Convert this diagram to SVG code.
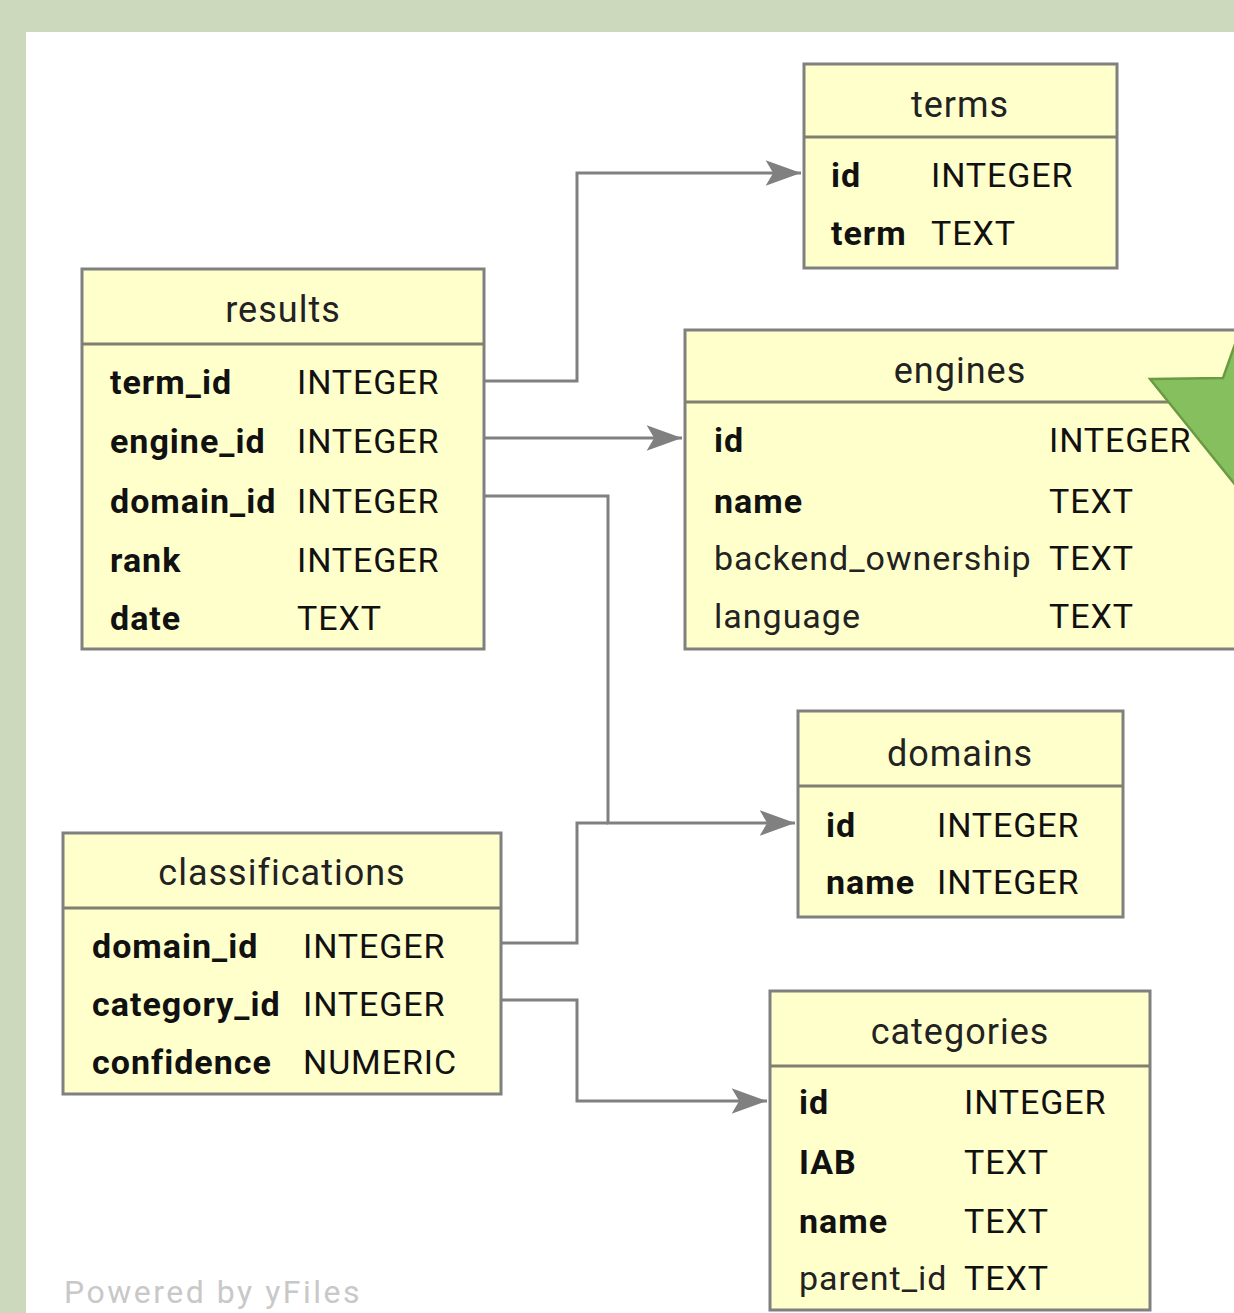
<svg xmlns="http://www.w3.org/2000/svg" width="1234" height="1313" viewBox="0 0 1234 1313">
<defs>
<marker id="arr" markerUnits="userSpaceOnUse" markerWidth="40" markerHeight="30" viewBox="-34 -14 36 28" refX="0" refY="0" orient="auto">
<path d="M0,0 L-33,-12 L-26,0 L-33,12 Z" fill="#808080"/>
</marker>
</defs>
<style>
.box{fill:#ffffcc;stroke:#808080;stroke-width:3}
.sep{stroke:#808070;stroke-width:3}
.title{font-family:Roboto,"Liberation Sans",sans-serif;font-size:36px;letter-spacing:1px;fill:#222;text-anchor:middle}
.k{font-family:Roboto,"Liberation Sans",sans-serif;font-size:34px;letter-spacing:1px;font-weight:bold;fill:#111}
.kn{font-family:Roboto,"Liberation Sans",sans-serif;font-size:34px;letter-spacing:1px;fill:#222}
.t{font-family:Roboto,"Liberation Sans",sans-serif;font-size:34px;letter-spacing:0.9px;fill:#111}
.edge{fill:none;stroke:#808080;stroke-width:3}
</style>
<rect x="0" y="0" width="1234" height="1313" fill="#cdd9bd"/>
<rect x="26" y="32" width="1208" height="1281" fill="#ffffff"/>

<g id="connectors">
<polyline class="edge" points="484,381 577,381 577,173 801,173" marker-end="url(#arr)"/>
<polyline class="edge" points="484,438 682,438" marker-end="url(#arr)"/>
<polyline class="edge" points="484,496 608,496 608,823 795,823" marker-end="url(#arr)"/>
<polyline class="edge" points="501,943 577,943 577,823 608,823"/>
<polyline class="edge" points="501,1000 577,1000 577,1101 767,1101" marker-end="url(#arr)"/>
</g>

<g id="terms">
<rect class="box" x="804" y="64" width="313" height="204"/>
<line class="sep" x1="804" y1="137" x2="1117" y2="137"/>
<text class="title" x="960" y="117">terms</text>
<text class="k" x="831" y="187">id</text><text class="t" x="931" y="187">INTEGER</text>
<text class="k" x="831" y="245">term</text><text class="t" x="931" y="245">TEXT</text>
</g>

<g id="results">
<rect class="box" x="82" y="269" width="402" height="380"/>
<line class="sep" x1="82" y1="344" x2="484" y2="344"/>
<text class="title" x="283" y="322">results</text>
<text class="k" x="110" y="394">term_id</text><text class="t" x="297" y="394">INTEGER</text>
<text class="k" x="110" y="453">engine_id</text><text class="t" x="297" y="453">INTEGER</text>
<text class="k" x="110" y="513">domain_id</text><text class="t" x="297" y="513">INTEGER</text>
<text class="k" x="110" y="572">rank</text><text class="t" x="297" y="572">INTEGER</text>
<text class="k" x="110" y="630">date</text><text class="t" x="297" y="630">TEXT</text>
</g>

<g id="engines">
<rect class="box" x="685" y="330" width="560" height="319"/>
<line class="sep" x1="685" y1="402" x2="1234" y2="402"/>
<text class="title" x="960" y="383">engines</text>
<text class="k" x="714" y="452">id</text><text class="t" x="1049" y="452">INTEGER</text>
<text class="k" x="714" y="513">name</text><text class="t" x="1049" y="513">TEXT</text>
<text class="kn" x="714" y="570">backend_ownership</text><text class="t" x="1049" y="570">TEXT</text>
<text class="kn" x="714" y="628">language</text><text class="t" x="1049" y="628">TEXT</text>
</g>

<g id="star">
<polygon points="1150,379 1223,378 1245,316 1245,497" fill="#86bf5e" stroke="#6a9b42" stroke-width="2.5" stroke-linejoin="miter"/>
</g>

<g id="domains">
<rect class="box" x="798" y="711" width="325" height="206"/>
<line class="sep" x1="798" y1="786" x2="1123" y2="786"/>
<text class="title" x="960" y="766">domains</text>
<text class="k" x="826" y="837">id</text><text class="t" x="937" y="837">INTEGER</text>
<text class="k" x="826" y="894">name</text><text class="t" x="937" y="894">INTEGER</text>
</g>

<g id="classifications">
<rect class="box" x="63" y="833" width="438" height="261"/>
<line class="sep" x1="63" y1="908" x2="501" y2="908"/>
<text class="title" x="282" y="885">classifications</text>
<text class="k" x="92" y="958">domain_id</text><text class="t" x="303" y="958">INTEGER</text>
<text class="k" x="92" y="1016">category_id</text><text class="t" x="303" y="1016">INTEGER</text>
<text class="k" x="92" y="1074">confidence</text><text class="t" x="303" y="1074">NUMERIC</text>
</g>

<g id="categories">
<rect class="box" x="770" y="991" width="380" height="319"/>
<line class="sep" x1="770" y1="1066" x2="1150" y2="1066"/>
<text class="title" x="960" y="1044">categories</text>
<text class="k" x="799" y="1114">id</text><text class="t" x="964" y="1114">INTEGER</text>
<text class="k" x="799" y="1174">IAB</text><text class="t" x="964" y="1174">TEXT</text>
<text class="k" x="799" y="1233">name</text><text class="t" x="964" y="1233">TEXT</text>
<text class="kn" x="799" y="1290">parent_id</text><text class="t" x="964" y="1290">TEXT</text>
</g>

<text x="64" y="1303" font-family="Roboto,'Liberation Sans',sans-serif" font-size="32" letter-spacing="2.5" fill="#c8c8c8">Powered by yFiles</text>
</svg>
